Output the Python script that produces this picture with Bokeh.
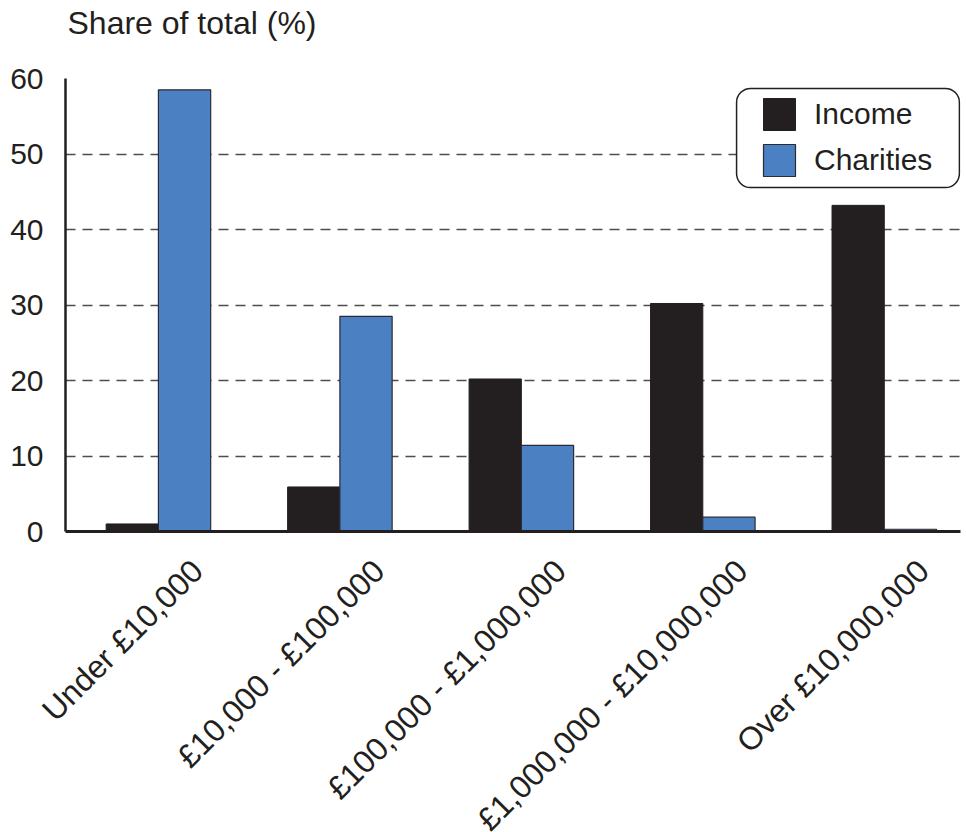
import math

from bokeh.plotting import figure
from bokeh.layouts import column
from bokeh.models import Range1d, FixedTicker, Legend, LegendItem, BoxAnnotation
from bokeh.core.properties import value
from bokeh.embed import file_html
from bokeh.resources import INLINE

# Income bands and the share of total income / number of charities in each
bands = [
    "Under £10,000",
    "£10,000 - £100,000",
    "£100,000 - £1,000,000",
    "£1,000,000 - £10,000,000",
    "Over £10,000,000",
]
income_share = [1.0, 5.9, 20.2, 30.2, 43.2]
charities_share = [58.5, 28.5, 11.4, 1.9, 0.3]
y_ticks = [0, 10, 20, 30, 40, 50, 60]
title_text = "Share of total (%)"

INK = "#231f20"
BLUE = "#4b80c3"
FONT = "Liberation Sans"

BAR_W = 0.288
LABEL_SHIFT = 0.215
X0, X1 = -0.512, 4.42
Y0, Y1 = 0, 60

WIDTH = 966
LEFT, RIGHT = 65, 6
TOP_H = 58
CHART_TOP, FRAME_H, CHART_BOTTOM = 20, 453, 19
CHART_H = CHART_TOP + FRAME_H + CHART_BOTTOM
STRIP_H = 832 - TOP_H - CHART_H

# horizontal scale of the chart, reused so the text strips line up with it
px_per_unit = (WIDTH - LEFT - RIGHT) / (X1 - X0)
full_range = (X0 - LEFT / px_per_unit, X1 + RIGHT / px_per_unit)


def blank(height):
    f = figure(
        width=WIDTH, height=height, output_backend="svg", toolbar_location=None,
        x_range=Range1d(*full_range), y_range=Range1d(0, height),
        x_axis_location=None, y_axis_location=None,
        min_border_left=0, min_border_right=0,
        min_border_top=0, min_border_bottom=0,
    )
    if "frame_align" in f.properties():
        f.frame_align = False
    f.outline_line_color = None
    f.grid.grid_line_color = None
    f.background_fill_color = "white"
    f.border_fill_color = "white"
    return f


# --- heading strip --------------------------------------------------------
head = blank(TOP_H)
head.text(
    x=[X0], y=[TOP_H - 22], text=[title_text], x_offset=2,
    text_align="left", text_baseline="alphabetic",
    text_font=value(FONT), text_font_size="32px", text_color=INK,
)

# --- bar chart ------------------------------------------------------------
p = figure(
    width=WIDTH,
    height=CHART_H,
    output_backend="svg",
    toolbar_location=None,
    x_range=Range1d(X0, X1),
    y_range=Range1d(Y0, Y1),
    min_border_left=LEFT,
    min_border_right=RIGHT,
    min_border_top=CHART_TOP,
    min_border_bottom=CHART_BOTTOM,
)
if "frame_align" in p.properties():
    p.frame_align = False
p.outline_line_color = None
p.background_fill_color = "white"
p.border_fill_color = "white"

pos = list(range(len(bands)))
income_x = [i - BAR_W / 2 for i in pos]
charity_x = [i + BAR_W / 2 for i in pos]

r_inc = p.vbar(x=income_x, top=income_share, width=BAR_W, bottom=0,
               fill_color=INK, line_color=INK, line_width=1)
r_cha = p.vbar(x=charity_x, top=charities_share, width=BAR_W, bottom=0,
               fill_color=BLUE, line_color="#2b2b33", line_width=1.2)

p.yaxis.ticker = FixedTicker(ticks=y_ticks)
p.yaxis.axis_line_color = INK
p.yaxis.axis_line_width = 2.5
p.yaxis.major_tick_line_color = None
p.yaxis.minor_tick_line_color = None
p.yaxis.major_label_text_font = FONT
p.yaxis.major_label_text_font_size = "30px"
p.yaxis.major_label_text_color = INK
p.yaxis.major_label_standoff = 16

# x axis: baseline only, band names go in the strip underneath
p.xaxis.ticker = FixedTicker(ticks=[])
p.xaxis.axis_line_color = INK
p.xaxis.axis_line_width = 3
p.xaxis.major_tick_line_color = None
p.xaxis.minor_tick_line_color = None

p.xgrid.grid_line_color = None
p.ygrid.ticker = FixedTicker(ticks=y_ticks)
p.ygrid.grid_line_color = "#4d4d4d"
p.ygrid.grid_line_width = 1.5
p.ygrid.grid_line_dash = "10 7"

# rounded frame behind the legend entries (upper right of the plot area)
legend_frame = BoxAnnotation(
    left=3.186, right=4.414, top=58.68, bottom=45.56,
    fill_color="white", fill_alpha=1,
    line_color=INK, line_width=1.5, line_alpha=1,
    level="annotation",
)
if "border_radius" in BoxAnnotation.properties():
    legend_frame.border_radius = 14
p.add_layout(legend_frame)

legend = Legend(
    items=[LegendItem(label="Income", renderers=[r_inc]),
           LegendItem(label="Charities", renderers=[r_cha])],
    location=(694, 351),
    orientation="vertical",
    glyph_width=40,
    glyph_height=40,
    label_standoff=15,
    label_text_font=FONT,
    label_text_font_size="30px",
    label_text_color=INK,
    padding=0,
    margin=0,
    spacing=6,
    border_line_color=None,
    background_fill_alpha=0,
)
p.add_layout(legend, "center")

# --- strip of rotated band names ------------------------------------------
strip = blank(STRIP_H)
strip.text(
    x=[i + LABEL_SHIFT for i in pos],
    y=[STRIP_H - 15] * len(bands),
    text=bands,
    angle=math.pi / 4,
    text_align="right",
    text_baseline="middle",
    text_font=value(FONT),
    text_font_size="32px",
    text_color=INK,
)

layout = column(head, p, strip, spacing=0)
open("out.html", "w").write(file_html(layout, INLINE))
